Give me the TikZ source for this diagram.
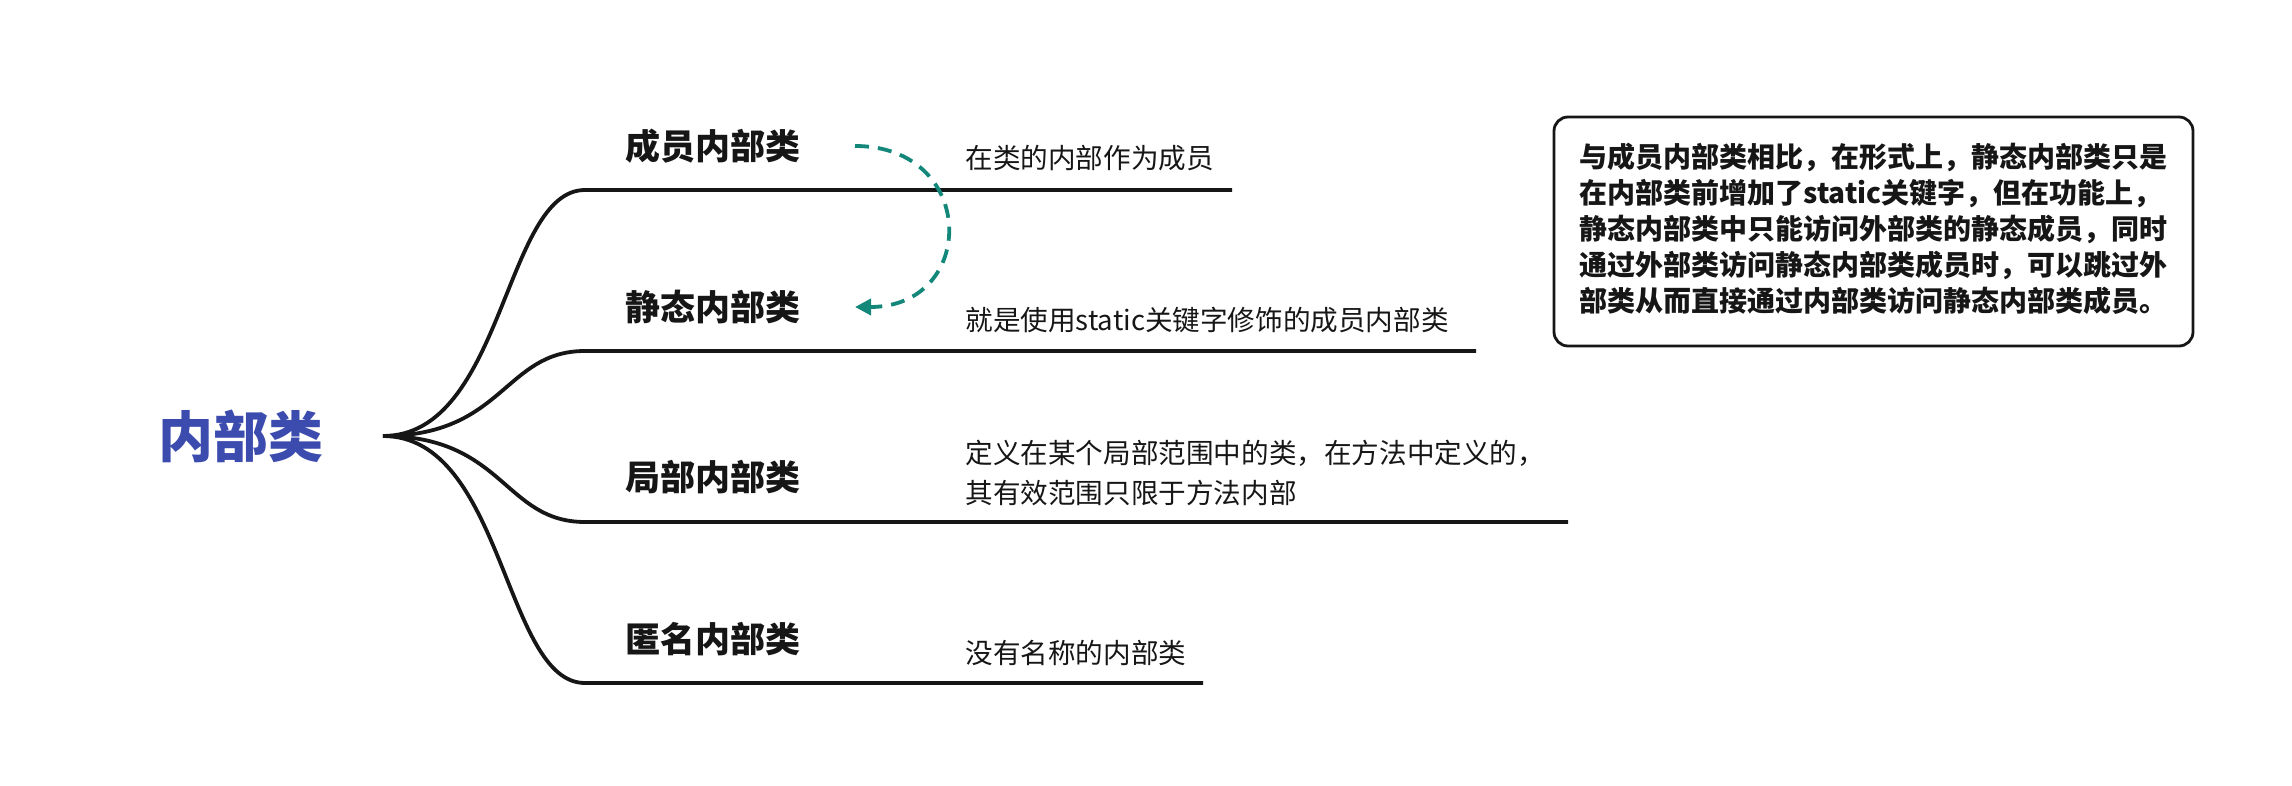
\documentclass[tikz,border=0pt]{standalone}
\usepackage{fontspec}
\newfontfamily\cjk{Noto Sans CJK SC}
\usetikzlibrary{arrows.meta}
\definecolor{rootblue}{HTML}{3B4BAE}
\definecolor{teal}{HTML}{12877A}
\definecolor{ink}{HTML}{161616}
\tikzset{
  branchline/.style={line width=1.9pt, draw=ink},
  rootlabel/.style={font=\cjk\bfseries\fontsize{27.5}{30}\selectfont, text=rootblue, inner sep=0pt},
  sublabel/.style={font=\cjk\bfseries\fontsize{17.5}{20}\selectfont, text=ink, inner sep=0pt},
  desclabel/.style={font=\cjk\fontsize{13.8}{20}\selectfont, text=ink, inner sep=0pt, anchor=west, align=left},
  notebox/.style={draw=ink, line width=1.4pt, rounded corners=7pt, minimum width=319.5pt, minimum height=114.5pt, inner sep=0pt},
  notetext/.style={font=\cjk\bfseries\fontsize{14}{18}\selectfont, text=ink, inner sep=0pt, anchor=west, align=left},
  linkarrow/.style={draw=teal, line width=1.9pt, dash pattern=on 7pt off 4.5pt, -{Triangle[length=8pt,width=8pt]}}
}
\begin{document}
\begin{tikzpicture}[x=0.5pt,y=-0.5pt]
\useasboundingbox (0,0) rectangle (2292,786);
% root
\node[rootlabel] (root) at (241,436) {内部类};
\coordinate (r) at (383,436);
% branch coordinates
\coordinate (b1s) at (585,190); \coordinate (b1e) at (1232,190);
\coordinate (b2s) at (585,351); \coordinate (b2e) at (1476,351);
\coordinate (b3s) at (585,522); \coordinate (b3e) at (1568,522);
\coordinate (b4s) at (585,683); \coordinate (b4e) at (1203,683);
% curves
\draw[branchline] (r) .. controls (504,436) and (504,190) .. (b1s) -- (b1e);
\draw[branchline] (r) .. controls (504,436) and (504,351) .. (b2s) -- (b2e);
\draw[branchline] (r) .. controls (504,436) and (504,522) .. (b3s) -- (b3e);
\draw[branchline] (r) .. controls (504,436) and (504,683) .. (b4s) -- (b4e);
% labels
\node[sublabel] (l1) at (713,146) {成员内部类};
\node[sublabel] (l2) at (713,307) {静态内部类};
\node[sublabel] (l3) at (713,477) {局部内部类};
\node[sublabel] (l4) at (713,639) {匿名内部类};
% descriptions
\node[desclabel] (d1) at (965,158) {在类的内部作为成员};
\node[desclabel] (d2) at (965,320) {就是使用static关键字修饰的成员内部类};
\node[desclabel] (d3) at (965,473) {定义在某个局部范围中的类，在方法中定义的，\\其有效范围只限于方法内部};
\node[desclabel] (d4) at (965,653) {没有名称的内部类};
% dashed link
\coordinate (a1) at (855,146);
\coordinate (a2) at (855,307);
\draw[linkarrow] (a1) .. controls (978,146) and (978,307) .. (a2);
% note box
\node[notebox] (box) at (1873.5,231.5) {};
\node[notetext] (note) at (1579,229) {与成员内部类相比，在形式上，静态内部类只是\\在内部类前增加了static关键字，但在功能上，\\静态内部类中只能访问外部类的静态成员，同时\\通过外部类访问静态内部类成员时，可以跳过外\\部类从而直接通过内部类访问静态内部类成员。};
\end{tikzpicture}
\end{document}
